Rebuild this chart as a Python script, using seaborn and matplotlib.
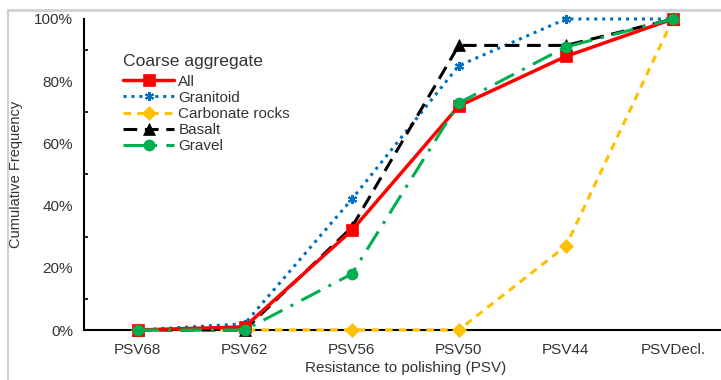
import matplotlib
matplotlib.use("Agg")
import matplotlib.pyplot as plt
import seaborn as sns
import pandas as pd
from matplotlib.lines import Line2D
from matplotlib.ticker import MultipleLocator, PercentFormatter

categories = ["PSV68", "PSV62", "PSV56", "PSV50", "PSV44", "PSVDecl."]
all_vals = [0, 1, 32, 72, 88, 100]
granitoid = [0, 2, 42, 85, 100, 100]
carbonate = [0, 0, 0, 0, 27, 100]
basalt = [0, 0, 33, 91.5, 91.5, 100]
gravel = [0, 0, 18, 73, 91, 100]

series_names = ["All", "Granitoid", "Carbonate rocks", "Basalt", "Gravel"]
series_vals = [all_vals, granitoid, carbonate, basalt, gravel]

rows = []
for name, vals in zip(series_names, series_vals):
    for i, (c, v) in enumerate(zip(categories, vals)):
        rows.append({"pos": i, "cat": c, "value": v / 100.0, "series": name})
df = pd.DataFrame(rows)

sns.set_theme(style="white")
plt.rcParams["font.family"] = ["Liberation Sans", "DejaVu Sans"]

styles = {
    "All": dict(color="#FF0000", ls="-", marker="s", ms=8, lw=2.5),
    "Granitoid": dict(color="#0070C0", ls=(0, (1, 1.6)), marker=(6, 2, 0), ms=6.5, lw=2.2),
    "Carbonate rocks": dict(color="#FFC000", ls=(0, (2.5, 2)), marker="D", ms=7, lw=2.2),
    "Basalt": dict(color="#000000", ls=(0, (4.5, 2.5)), marker="^", ms=8, lw=2.2),
    "Gravel": dict(color="#00B050", ls=(0, (7, 3, 1, 3)), marker="o", ms=8, lw=2.2),
}

fig = plt.figure(figsize=(7.21, 3.80), dpi=100)
ax = fig.add_axes([84 / 721, 50 / 380, (726.5 - 84) / 721, (330 - 19) / 380])

draw_order = ["Carbonate rocks", "Granitoid", "Basalt", "All", "Gravel"]
for name in draw_order:
    st = styles[name]
    sub = df[df["series"] == name]
    sns.lineplot(data=sub, x="pos", y="value", ax=ax, color=st["color"],
                 linestyle=st["ls"], linewidth=st["lw"], marker=st["marker"],
                 markersize=st["ms"], markeredgecolor=st["color"],
                 markeredgewidth=1.5 if name == "Granitoid" else 0.5,
                 label=name, clip_on=False, zorder=3)

ax.set_xlim(-0.5, 5.5)
ax.set_ylim(0, 1)
ax.set_xticks(range(len(categories)))
ax.set_xticklabels(categories)
ax.yaxis.set_major_locator(MultipleLocator(0.2))
ax.yaxis.set_minor_locator(MultipleLocator(0.1))
ax.yaxis.set_major_formatter(PercentFormatter(1.0, decimals=0))

for s in ["top", "right"]:
    ax.spines[s].set_visible(False)
for s in ["left", "bottom"]:
    ax.spines[s].set_color("black")
    ax.spines[s].set_linewidth(1.5)

ax.tick_params(axis="both", which="major", direction="inout", length=6, width=1.3,
               colors="black", labelsize=11, labelcolor="#333333")
ax.tick_params(axis="x", which="major", length=6, pad=6)
ax.tick_params(axis="y", which="minor", direction="in", length=3, width=1.2,
               colors="black", left=True)
ax.tick_params(axis="y", pad=5)

ax.set_xlabel("Resistance to polishing (PSV)", fontsize=11, color="#333333", labelpad=3)
ax.set_ylabel("Cumulative Frequency", fontsize=10.5, color="#333333")
ax.yaxis.set_label_coords(-0.095, 0.5)
ax.grid(False)

handles_map = {h.get_label(): h for h in ax.get_legend_handles_labels()[0]}
handles = [handles_map[n] for n in series_names]
leg = ax.legend(handles, series_names, title="Coarse aggregate", loc="upper left",
                bbox_to_anchor=(0.06, 0.889), frameon=False, fontsize=11,
                title_fontsize=12.6, handlelength=3.4, handletextpad=0.25,
                labelspacing=0.135, borderaxespad=0, borderpad=0)
leg._legend_box.align = "left"
leg._legend_box.sep = 4.5
for t in leg.get_texts():
    t.set_color("#333333")
leg.get_title().set_color("#333333")

# light gray frame around figure (top and left)
fig.add_artist(Line2D([8 / 721, 1], [1 - 10 / 380, 1 - 10 / 380], color="#d0d0d0", lw=2,
                      transform=fig.transFigure))
fig.add_artist(Line2D([8 / 721, 8 / 721], [0, 1 - 10 / 380], color="#d0d0d0", lw=1.5,
                      transform=fig.transFigure))

fig.savefig("out.png", dpi=100)
